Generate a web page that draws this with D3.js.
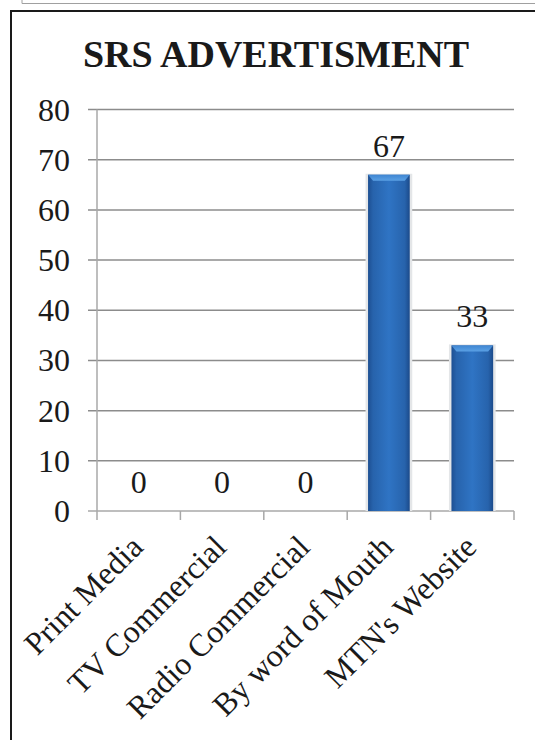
<!DOCTYPE html>
<html>
<head>
<meta charset="utf-8">
<script src="https://cdn.jsdelivr.net/npm/d3@7"></script>
<style>
  body { margin: 0; background: #fff; }
  svg { display: block; }
</style>
</head>
<body>
<div id="chart"></div>
<script>
const title = "SRS ADVERTISMENT";
const categories = ["Print Media", "TV Commercial", "Radio Commercial", "By word of Mouth", "MTN's Website"];
const values = [0, 0, 0, 67, 33];
const yTicks = [0, 10, 20, 30, 40, 50, 60, 70, 80];

const width = 535, height = 740;
const serif = "'Liberation Serif', 'Times New Roman', serif";

const svg = d3.select("#chart").append("svg")
  .attr("width", width)
  .attr("height", height);

// bar gradient
const defs = svg.append("defs");
const grad = defs.append("linearGradient").attr("id", "barGrad")
  .attr("x1", "0%").attr("x2", "100%").attr("y1", "0%").attr("y2", "0%");
grad.append("stop").attr("offset", "0%").attr("stop-color", "#1d4f92");
grad.append("stop").attr("offset", "12%").attr("stop-color", "#2763ac");
grad.append("stop").attr("offset", "50%").attr("stop-color", "#2f74c4");
grad.append("stop").attr("offset", "88%").attr("stop-color", "#2763ac");
grad.append("stop").attr("offset", "100%").attr("stop-color", "#1b4a8a");

const topGrad = defs.append("linearGradient").attr("id", "topGrad")
  .attr("x1", "0%").attr("x2", "0%").attr("y1", "0%").attr("y2", "100%");
topGrad.append("stop").attr("offset", "0%").attr("stop-color", "#3f86d2");
topGrad.append("stop").attr("offset", "100%").attr("stop-color", "#5aa0e4");

// remains of the figure above
svg.append("path")
  .attr("d", "M22,0 V3.5 H535")
  .attr("fill", "none")
  .attr("stroke", "#a0a0a0")
  .attr("stroke-width", 1);

// chart frame
svg.append("path")
  .attr("d", "M11,740 V11 H535")
  .attr("fill", "none")
  .attr("stroke", "#1a1a1a")
  .attr("stroke-width", 2);

svg.append("text")
  .attr("x", 276)
  .attr("y", 67)
  .attr("text-anchor", "middle")
  .style("font-family", serif)
  .style("font-weight", "bold")
  .style("font-size", "38px")
  .style("fill", "#1a1a1a")
  .text(title);

const plot = { left: 97, right: 514, top: 109.5, bottom: 511 };

const x = d3.scaleBand()
  .domain(categories)
  .range([plot.left, plot.right])
  .paddingInner(0.5)
  .paddingOuter(0.25);

const y = d3.scaleLinear()
  .domain([0, 80])
  .range([plot.bottom, plot.top]);

// gridlines
svg.append("g")
  .selectAll("line")
  .data(yTicks)
  .enter()
  .append("line")
  .attr("x1", plot.left - 9)
  .attr("x2", plot.right)
  .attr("y1", (d) => y(d))
  .attr("y2", (d) => y(d))
  .attr("stroke", (d) => d === 0 ? "#a8a8a8" : "#8c8c8c")
  .attr("stroke-width", 1.5);

// y axis line
svg.append("line")
  .attr("x1", plot.left).attr("x2", plot.left)
  .attr("y1", plot.top).attr("y2", plot.bottom)
  .attr("stroke", "#a8a8a8")
  .attr("stroke-width", 1.5);

// x ticks at band edges
const edges = categories.map((c) => x(c) - x.step() * x.paddingInner() / 2);
edges.push(plot.right);
svg.append("g")
  .selectAll("line")
  .data(edges)
  .enter()
  .append("line")
  .attr("x1", (d) => d).attr("x2", (d) => d)
  .attr("y1", plot.bottom).attr("y2", plot.bottom + 9)
  .attr("stroke", "#a8a8a8")
  .attr("stroke-width", 1.5);

// y tick labels
svg.append("g")
  .selectAll("text")
  .data(yTicks)
  .enter()
  .append("text")
  .attr("x", 70)
  .attr("y", (d) => y(d) + 11)
  .attr("text-anchor", "end")
  .style("font-family", serif)
  .style("font-size", "32px")
  .style("fill", "#1a1a1a")
  .text((d) => d);

// bars
const bars = svg.append("g")
  .selectAll("g")
  .data(values.map((v, i) => ({ cat: categories[i], value: v })).filter((d) => d.value > 0))
  .enter()
  .append("g");

bars.append("rect")
  .attr("x", (d) => x(d.cat) - 2.5)
  .attr("y", (d) => y(d.value) - 1)
  .attr("width", x.bandwidth() + 5)
  .attr("height", (d) => plot.bottom - y(d.value) + 1)
  .attr("fill", "#e4e6e8");

bars.append("rect")
  .attr("x", (d) => x(d.cat))
  .attr("y", (d) => y(d.value))
  .attr("width", x.bandwidth())
  .attr("height", (d) => plot.bottom - y(d.value))
  .attr("fill", "url(#barGrad)");

bars.append("path")
  .attr("d", (d) => {
    const x0 = x(d.cat), x1 = x0 + x.bandwidth(), t = y(d.value);
    return `M${x0},${t} H${x1} L${x1 - 5},${t + 6} H${x0 + 5} Z`;
  })
  .attr("fill", "url(#topGrad)");

// value labels
svg.append("g")
  .selectAll("text")
  .data(values)
  .enter()
  .append("text")
  .attr("x", (d, i) => x(categories[i]) + x.bandwidth() / 2)
  .attr("y", (d) => y(d) - 18)
  .attr("text-anchor", "middle")
  .style("font-family", serif)
  .style("font-size", "32px")
  .style("fill", "#1a1a1a")
  .text((d) => d);

// category labels
svg.append("g")
  .selectAll("text")
  .data(categories)
  .enter()
  .append("text")
  .attr("transform", (d) => `translate(${x(d) + x.bandwidth() / 2 + 6},${plot.bottom + 38}) rotate(-45)`)
  .attr("text-anchor", "end")
  .style("font-family", serif)
  .style("font-size", "32px")
  .style("fill", "#1a1a1a")
  .text((d) => d);
</script>
</body>
</html>
